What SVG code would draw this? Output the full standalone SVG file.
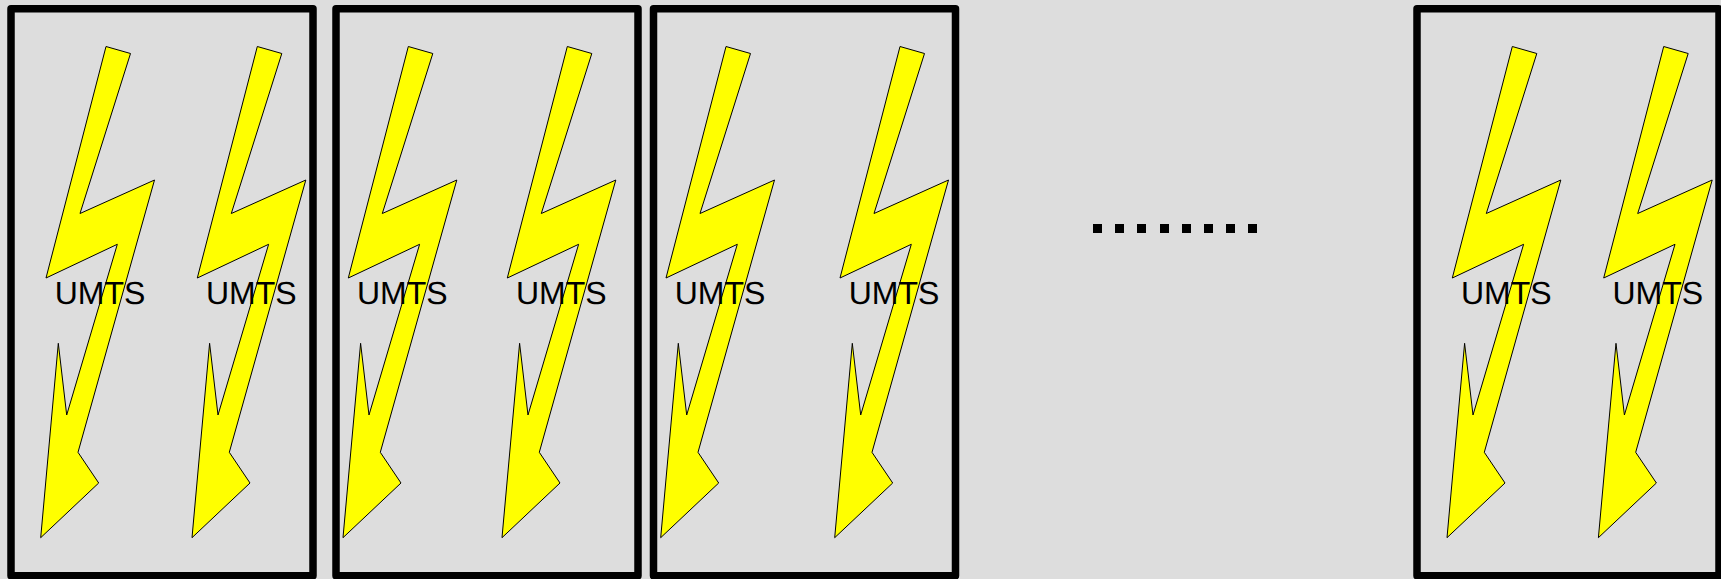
<svg xmlns="http://www.w3.org/2000/svg" xmlns:xlink="http://www.w3.org/1999/xlink" width="1721" height="579" viewBox="0 0 1721 579">
<style>
.frame{fill:none;stroke:#000;stroke-width:7.5;stroke-linejoin:round}
.bolt{fill:#ff0;stroke:#000;stroke-width:1;stroke-linejoin:miter;stroke-miterlimit:20}
.label{font-family:"Liberation Sans",Arial,sans-serif;font-size:32px;fill:#000;text-rendering:geometricPrecision}
.dot{fill:#000}
</style>
<defs>
<polygon id="b" class="bolt" points="106,46.5 130.5,53.5 80,213.5 154.5,180 78,452.3 98.7,483 40.7,537.7 58.3,343.3 66.7,415 117.3,244.3 46,278"/>
</defs>
<rect width="1721" height="579" fill="#ddd"/>
<g id="frame1"><rect class="frame" x="11" y="8.8" width="302" height="567"/></g>
<g id="frame2"><rect class="frame" x="336" y="8.8" width="302" height="567"/></g>
<g id="frame3"><rect class="frame" x="653.5" y="8.8" width="302" height="567"/></g>
<g id="frame4"><rect class="frame" x="1417" y="8.8" width="302" height="567"/></g>
<g id="bolt1"><use xlink:href="#b" href="#b"/><text class="label" x="54.7" y="304">UMTS</text></g>
<g id="bolt2" transform="translate(151.3 0)"><use xlink:href="#b" href="#b"/><text class="label" x="54.7" y="304">UMTS</text></g>
<g id="bolt3" transform="translate(302.3 0)"><use xlink:href="#b" href="#b"/><text class="label" x="54.7" y="304">UMTS</text></g>
<g id="bolt4" transform="translate(461.3 0)"><use xlink:href="#b" href="#b"/><text class="label" x="54.7" y="304">UMTS</text></g>
<g id="bolt5" transform="translate(620 0)"><use xlink:href="#b" href="#b"/><text class="label" x="54.7" y="304">UMTS</text></g>
<g id="bolt6" transform="translate(794 0)"><use xlink:href="#b" href="#b"/><text class="label" x="54.7" y="304">UMTS</text></g>
<g id="bolt7" transform="translate(1406.3 0)"><use xlink:href="#b" href="#b"/><text class="label" x="54.7" y="304">UMTS</text></g>
<g id="bolt8" transform="translate(1557.7 0)"><use xlink:href="#b" href="#b"/><text class="label" x="54.7" y="304">UMTS</text></g>
<g id="ellipsis">
<rect class="dot" x="1093" y="224" width="9" height="9"/>
<rect class="dot" x="1115" y="224" width="9" height="9"/>
<rect class="dot" x="1137" y="224" width="9" height="9"/>
<rect class="dot" x="1160" y="224" width="9" height="9"/>
<rect class="dot" x="1182" y="224" width="9" height="9"/>
<rect class="dot" x="1204" y="224" width="9" height="9"/>
<rect class="dot" x="1226" y="224" width="9" height="9"/>
<rect class="dot" x="1248" y="224" width="9" height="9"/>
</g>
<g id="connectors"/>
</svg>
